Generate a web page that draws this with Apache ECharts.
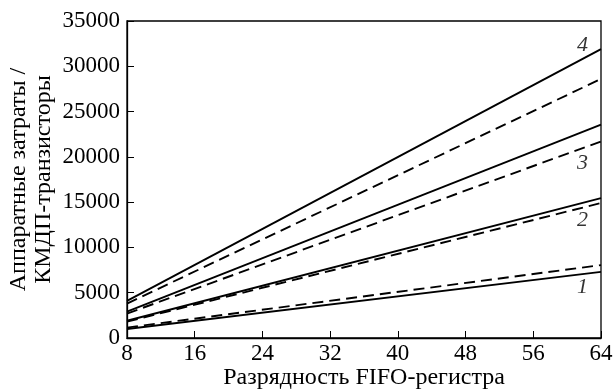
<!DOCTYPE html>
<html>
<head>
<meta charset="utf-8">
<script src="https://cdn.jsdelivr.net/npm/echarts@6/dist/echarts.min.js"></script>
<style>
  html, body { margin: 0; padding: 0; background: #fff; }
  #chart { width: 614px; height: 389px; }
</style>
</head>
<body>
<div id="chart"></div>
<script>
// разрядность FIFO-регистра
var bits = [8, 64];
// сплошные линии
var solid1 = [1000, 7300];
var solid2 = [1900, 15450];
var solid3 = [2900, 23550];
var solid4 = [4100, 31900];
// штриховые линии
var dash1 = [1150, 8050];
var dash2 = [1800, 14900];
var dash3 = [2700, 21700];
var dash4 = [3800, 28600];
// номера кривых
var curveNames = ["1", "2", "3", "4"];
var curveLabelX = [61.8, 61.8, 61.8, 61.8];
var curveLabelY = [5600, 13000, 19300, 32350];

var serif = "Liberation Serif";
var chart = echarts.init(document.getElementById("chart"));

function pairs(ys) {
    return bits.map(function (x, i) { return [x, ys[i]]; });
}
function mkLine(ys, dashed) {
    return {
        type: "line",
        data: pairs(ys),
        symbol: "none",
        silent: true,
        animation: false,
        lineStyle: {
            color: "#000",
            width: 1.9,
            type: dashed ? [11, 6] : "solid"
        }
    };
}

var series = [
    mkLine(solid1, false), mkLine(dash1, true),
    mkLine(solid2, false), mkLine(dash2, true),
    mkLine(solid3, false), mkLine(dash3, true),
    mkLine(solid4, false), mkLine(dash4, true)
];
// подписи номеров кривых
series.push({
    type: "scatter",
    data: curveNames.map(function (n, i) { return { value: [curveLabelX[i], curveLabelY[i]], name: n }; }),
    symbolSize: 0,
    silent: true,
    animation: false,
    label: {
        show: true,
        position: "inside",
        formatter: "{b}",
        color: "#000",
        fontFamily: serif,
        fontStyle: "italic",
        fontSize: 22
    }
});

chart.setOption({
    animation: false,
    grid: {
        left: 127, right: 13, top: 21, bottom: 51,
        containLabel: false,
        outerBoundsMode: "none",
        show: true, borderColor: "#000", borderWidth: 1.3, backgroundColor: "transparent"
    },
    xAxis: {
        type: "value",
        min: 8, max: 64, interval: 8,
        name: "Разрядность FIFO-регистра",
        nameLocation: "middle",
        nameGap: 28,
        nameMoveOverlap: false,
        nameTextStyle: { fontFamily: serif, fontSize: 24, color: "#000" },
        axisLine: { show: true, lineStyle: { color: "#000", width: 1.3 } },
        axisTick: { show: true, inside: true, length: 7, lineStyle: { color: "#000" } },
        axisLabel: { fontFamily: serif, fontSize: 23, color: "#000", margin: 4 },
        splitLine: { show: false }
    },
    yAxis: {
        type: "value",
        min: 0, max: 35000, interval: 5000,
        name: "Аппаратные затраты /\nКМДП-транзисторы",
        nameLocation: "middle",
        nameRotate: 90,
        nameGap: 71,
        nameMoveOverlap: false,
        nameTextStyle: { fontFamily: serif, fontSize: 24, color: "#000", lineHeight: 25 },
        axisLine: { show: true, lineStyle: { color: "#000", width: 1.3 } },
        axisTick: { show: true, inside: true, length: 7, lineStyle: { color: "#000" } },
        axisLabel: {
            fontFamily: serif, fontSize: 23, color: "#000", margin: 7,
            formatter: function (v) { return String(v); }
        },
        splitLine: { show: false }
    },
    series: series
});
</script>
</body>
</html>
